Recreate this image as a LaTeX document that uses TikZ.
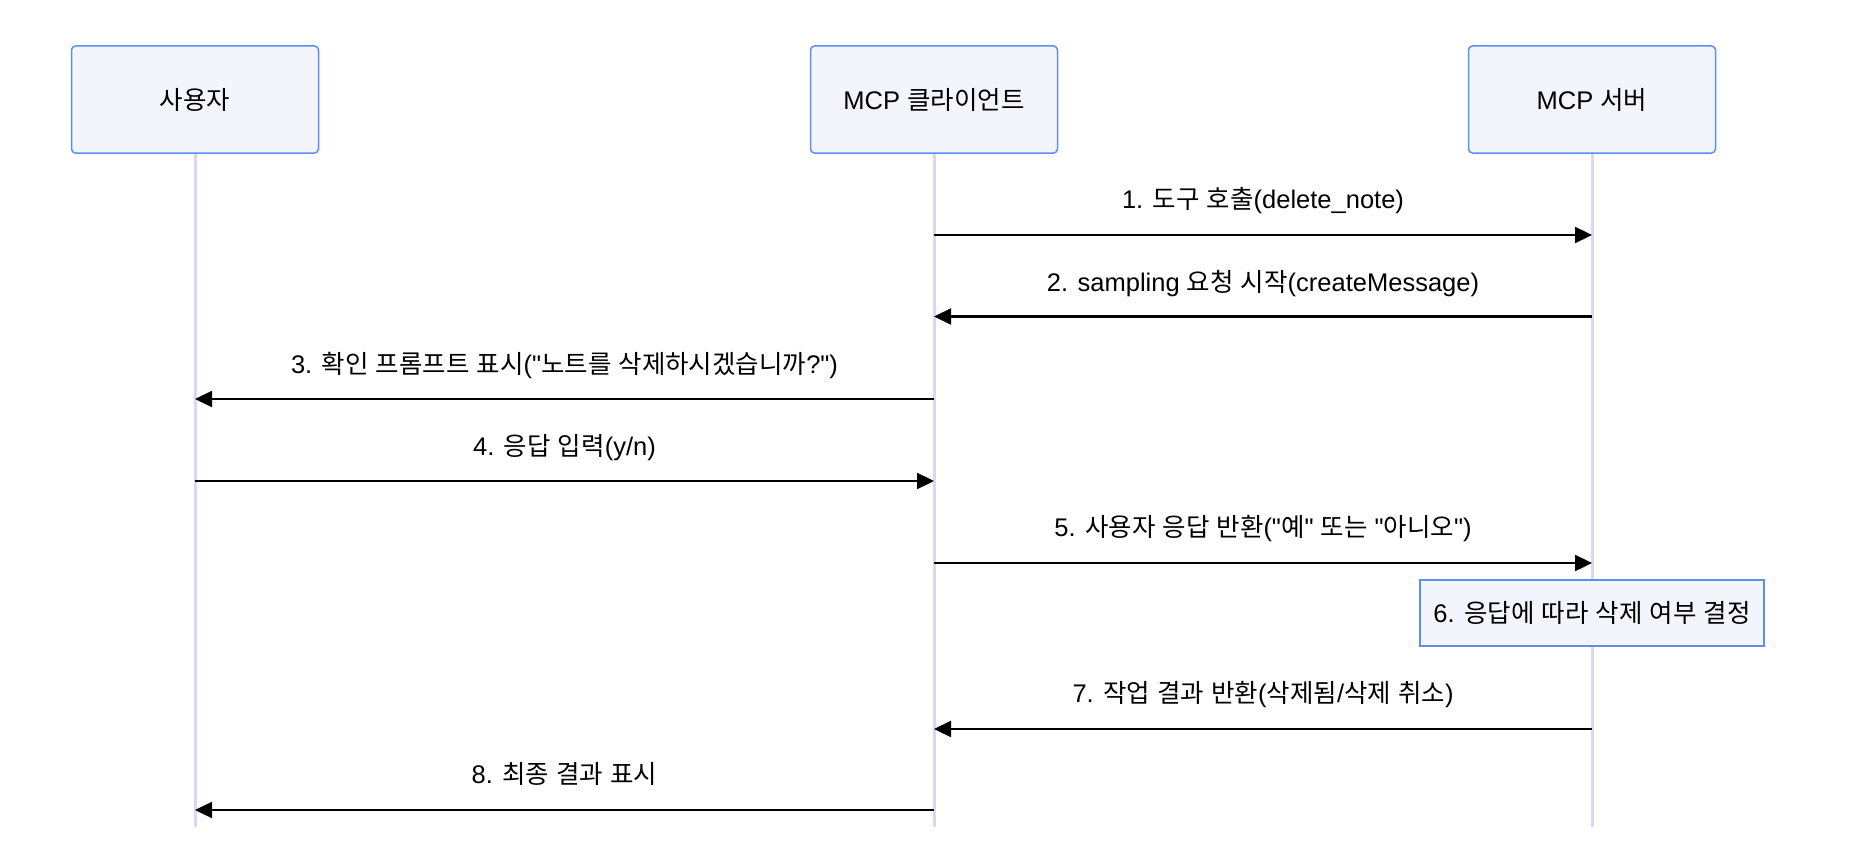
\documentclass[tikz,border=0pt]{standalone}
\usepackage{fontspec}
\setmainfont{Liberation Sans}
\newfontfamily\latinfont{Liberation Sans}
\newfontfamily\krfont{Noto Sans CJK KR}
\usetikzlibrary{arrows.meta}
\XeTeXinterchartokenstate=1
\newXeTeXintercharclass\krclass
\count255="AC00
\loop
  \XeTeXcharclass\count255=\krclass
  \ifnum\count255<"D7A3 \advance\count255 by 1
\repeat
\XeTeXinterchartoks 0 \krclass = {\krfont}
\XeTeXinterchartoks 4095 \krclass = {\krfont}
\XeTeXinterchartoks \krclass 0 = {\latinfont}
\XeTeXinterchartoks \krclass 4095 = {\latinfont}
\definecolor{boxfill}{HTML}{F2F5FB}
\definecolor{boxdraw}{HTML}{5E8EEF}
\definecolor{lifeline}{HTML}{DCD5F5}
\tikzset{
  actor/.style={draw=boxdraw, fill=boxfill, line width=1.5pt, rounded corners=4pt,
    minimum width=247pt, minimum height=107pt, inner sep=0pt,
    font=\fontsize{25.5}{30}\selectfont},
  notebox/.style={draw=boxdraw, fill=boxfill, line width=1.5pt,
    minimum width=344pt, minimum height=66pt, inner sep=0pt,
    font=\fontsize{25.5}{30}\selectfont},
  life/.style={draw=lifeline, line width=3pt},
  msg/.style={draw=black, line width=2.3pt, -{Triangle[length=17pt,width=16pt]}},
  lbl/.style={font=\fontsize{25.5}{30}\selectfont, inner sep=0pt, text height=18pt, text depth=5pt}
}
\begin{document}
\begin{tikzpicture}[x=1pt,y=-1pt]
\useasboundingbox (0,0) rectangle (1852,864);
% actors
\node[actor] (u) at (195,99.5) {사용자};
\node[actor] (cl) at (934,99.5) {MCP 클라이언트};
\node[actor] (sv) at (1592,99.5) {MCP 서버};
\coordinate (uend) at (195,827);
\coordinate (clend) at (934,827);
\coordinate (svend) at (1592,827);
\path[life] (u.south) -- (uend);
\path[life] (cl.south) -- (clend);
\path[life] (sv.south) -- (svend);
% message coordinates
\foreach \n/\y in {1/235,2/316.5,3/399,4/481,5/563,7/729,8/810}{
  \coordinate (u\n) at (195,\y);
  \coordinate (c\n) at (934,\y);
  \coordinate (s\n) at (1592,\y);
}
\draw[msg] (c1) -- node[lbl, midway, yshift=33pt] (l1) {1. 도구 호출(delete\_note)} (s1);
\draw[msg] (s2) -- node[lbl, midway, yshift=32pt] (l2) {2. sampling 요청 시작(createMessage)} (c2);
\draw[msg] (c3) -- node[lbl, midway, yshift=32pt] (l3) {3. 확인 프롬프트 표시("노트를 삭제하시겠습니까?")} (u3);
\draw[msg] (u4) -- node[lbl, midway, yshift=32pt] (l4) {4. 응답 입력(y/n)} (c4);
\draw[msg] (c5) -- node[lbl, midway, yshift=33pt] (l5) {5. 사용자 응답 반환("예" 또는 "아니오")} (s5);
\node[notebox] (n6) at (1592,613) {6. 응답에 따라 삭제 여부 결정};
\draw[msg] (s7) -- node[lbl, midway, yshift=33pt] (l7) {7. 작업 결과 반환(삭제됨/삭제 취소)} (c7);
\draw[msg] (c8) -- node[lbl, midway, yshift=33pt] (l8) {8. 최종 결과 표시} (u8);
\end{tikzpicture}
\end{document}
